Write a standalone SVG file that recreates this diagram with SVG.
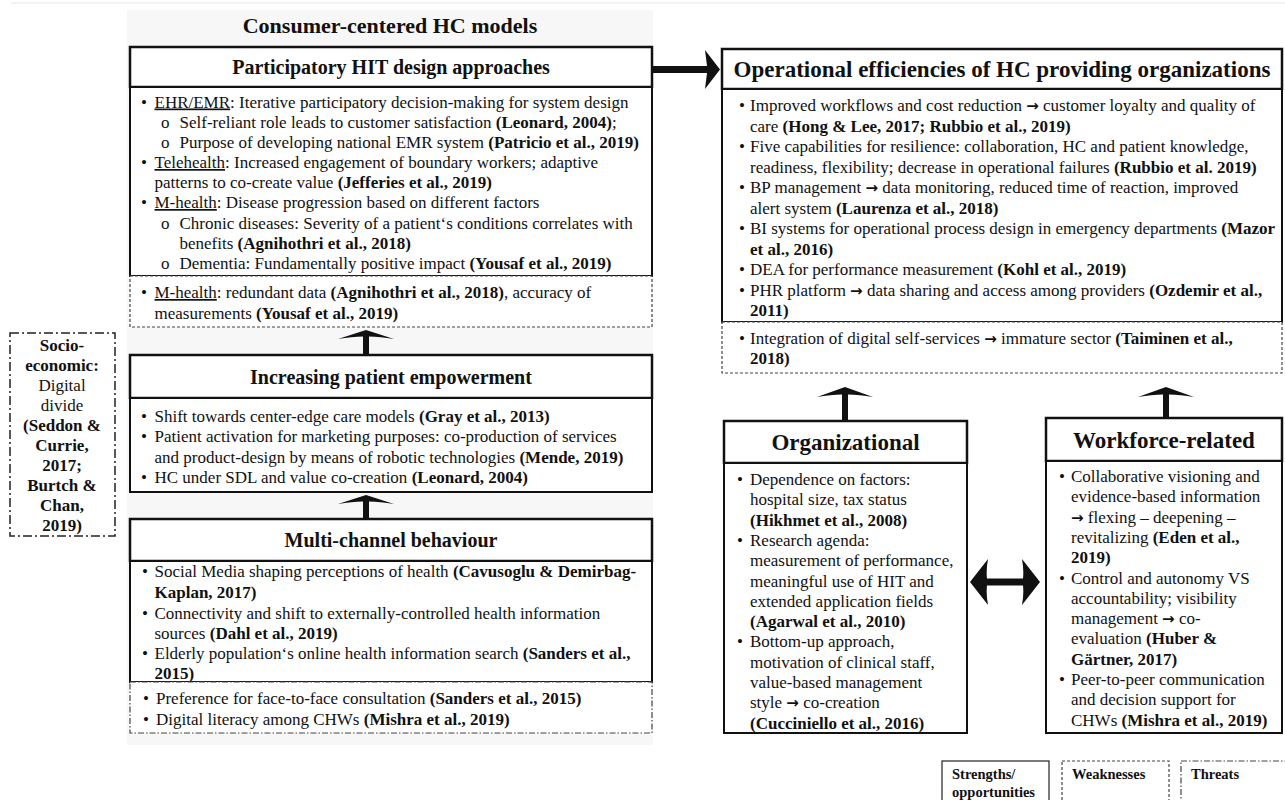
<svg xmlns="http://www.w3.org/2000/svg" width="1285" height="800" viewBox="0 0 1285 800">
<style>
text{font-family:"Liberation Serif","Times New Roman",serif;fill:#111}
.t{font-size:17px}
.b{font-weight:bold}
.a{font-weight:bold;font-family:"DejaVu Sans","Liberation Sans",sans-serif;font-size:15px}
.u{text-decoration:underline}
.h{font-size:20px;font-weight:bold;text-anchor:middle}
.hr{font-size:23px;font-weight:bold;text-anchor:middle}
.c{text-anchor:middle}
.hdr{fill:#fff;stroke:#111;stroke-width:2.5}
.bdy{fill:#fff;stroke:#111;stroke-width:2}
.dsh{fill:#fff;stroke:#444;stroke-width:1.2;stroke-dasharray:3 2}
.dd{fill:#fff;stroke:#444;stroke-width:1.2;stroke-dasharray:6 2 1.5 2}
.arr{fill:#111;stroke:none}
.lg{font-size:14.5px;font-weight:bold}
</style>
<rect x="0" y="0" width="1285" height="800" fill="#fff"/>
<line x1="11" y1="3" x2="1285" y2="3" stroke="#e6e6e6" stroke-width="1"/>
<rect x="127" y="10" width="526" height="735" fill="#f7f7f7"/>
<text class="t b c" x="390" y="33" style="font-size:22px">Consumer-centered HC models</text>

<g id="participatory">
<rect class="hdr" x="130" y="47" width="522" height="40"/>
<text class="h" x="391" y="74">Participatory HIT design approaches</text>
<rect class="bdy" x="130" y="87" width="522" height="189"/>
<text class="t" x="141" y="107.5">•</text><text class="t" x="154.5" y="107.5"><tspan class="u">EHR/EMR</tspan>: Iterative participatory decision-making for system design</text>
<text class="t" x="161" y="127.5">o</text><text class="t" x="179.5" y="127.5">Self-reliant role leads to customer satisfaction <tspan class="b">(Leonard, 2004)</tspan>;</text>
<text class="t" x="161" y="147.5">o</text><text class="t" x="179.5" y="147.5">Purpose of developing national EMR system <tspan class="b">(Patricio et al., 2019)</tspan></text>
<text class="t" x="141" y="168">•</text><text class="t" x="154.5" y="168"><tspan class="u">Telehealth</tspan>: Increased engagement of boundary workers; adaptive</text>
<text class="t" x="154.5" y="188">patterns to co-create value <tspan class="b">(Jefferies et al., 2019)</tspan></text>
<text class="t" x="141" y="208">•</text><text class="t" x="154.5" y="208"><tspan class="u">M-health</tspan>: Disease progression based on different factors</text>
<text class="t" x="161" y="228.5">o</text><text class="t" x="179.5" y="228.5">Chronic diseases: Severity of a patient‘s conditions correlates with</text>
<text class="t" x="179.5" y="249">benefits <tspan class="b">(Agnihothri et al., 2018)</tspan></text>
<text class="t" x="161" y="269">o</text><text class="t" x="179.5" y="269">Dementia: Fundamentally positive impact <tspan class="b">(Yousaf et al., 2019)</tspan></text>
<rect class="dsh" x="130" y="276" width="522" height="51"/>
<text class="t" x="141" y="298">•</text><text class="t" x="154.5" y="298"><tspan class="u">M-health</tspan>: redundant data <tspan class="b">(Agnihothri et al., 2018)</tspan>, accuracy of</text>
<text class="t" x="154.5" y="319">measurements <tspan class="b">(Yousaf et al., 2019)</tspan></text>
</g>

<g id="empowerment">
<rect class="hdr" x="130" y="355" width="522" height="43"/>
<text class="h" x="391" y="383.5">Increasing patient empowerment</text>
<rect class="bdy" x="130" y="398" width="522" height="94"/>
<text class="t" x="141" y="422">•</text><text class="t" x="154.5" y="422">Shift towards center-edge care models <tspan class="b">(Gray et al., 2013)</tspan></text>
<text class="t" x="141" y="442">•</text><text class="t" x="154.5" y="442">Patient activation for marketing purposes: co-production of services</text>
<text class="t" x="154.5" y="463">and product-design by means of robotic technologies <tspan class="b">(Mende, 2019)</tspan></text>
<text class="t" x="141" y="483">•</text><text class="t" x="154.5" y="483">HC under SDL and value co-creation <tspan class="b">(Leonard, 2004)</tspan></text>
</g>

<g id="multichannel">
<rect class="hdr" x="130" y="519" width="522" height="42"/>
<text class="h" x="391" y="547">Multi-channel behaviour</text>
<rect class="bdy" x="130" y="561" width="522" height="121"/>
<text class="t" x="142" y="577">•</text><text class="t" x="154.5" y="577">Social Media shaping perceptions of health <tspan class="b">(Cavusoglu &amp; Demirbag-</tspan></text>
<text class="t b" x="154.5" y="598">Kaplan, 2017)</text>
<text class="t" x="142" y="619">•</text><text class="t" x="154.5" y="619">Connectivity and shift to externally-controlled health information</text>
<text class="t" x="154.5" y="639">sources <tspan class="b">(Dahl et al., 2019)</tspan></text>
<text class="t" x="142" y="659">•</text><text class="t" x="154.5" y="659">Elderly population‘s online health information search <tspan class="b">(Sanders et al.,</tspan></text>
<text class="t b" x="154.5" y="679">2015)</text>
<rect class="dd" x="130" y="682" width="522" height="51"/>
<text class="t" x="143" y="704">•</text><text class="t" x="156" y="704">Preference for face-to-face consultation <tspan class="b">(Sanders et al., 2015)</tspan></text>
<text class="t" x="143" y="725">•</text><text class="t" x="156" y="725">Digital literacy among CHWs <tspan class="b">(Mishra et al., 2019)</tspan></text>
</g>

<g id="socioeconomic">
<rect x="10" y="333" width="105" height="203" fill="#fff" stroke="#222" stroke-width="1.5" stroke-dasharray="9 3 2 3"/>
<text class="t b c" x="62" y="351">Socio-</text>
<text class="t b c" x="62" y="371">economic:</text>
<text class="t c" x="62" y="391">Digital</text>
<text class="t c" x="62" y="411">divide</text>
<text class="t b c" x="62" y="431">(Seddon &amp;</text>
<text class="t b c" x="62" y="451">Currie,</text>
<text class="t b c" x="62" y="471">2017;</text>
<text class="t b c" x="62" y="491">Burtch &amp;</text>
<text class="t b c" x="62" y="511">Chan,</text>
<text class="t b c" x="62" y="531">2019)</text>
</g>

<g id="operational">
<rect class="hdr" x="722" y="49" width="560" height="40"/>
<text class="hr" x="1002" y="77">Operational efficiencies of HC providing organizations</text>
<rect class="bdy" x="722" y="89" width="560" height="233"/>
<text class="t" x="739" y="111">•</text><text class="t" x="750" y="111">Improved workflows and cost reduction <tspan class="a">→</tspan> customer loyalty and quality of</text>
<text class="t" x="750" y="131.5">care <tspan class="b">(Hong &amp; Lee, 2017; Rubbio et al., 2019)</tspan></text>
<text class="t" x="739" y="152">•</text><text class="t" x="750" y="152">Five capabilities for resilience: collaboration, HC and patient knowledge,</text>
<text class="t" x="750" y="172.5">readiness, flexibility; decrease in operational failures <tspan class="b">(Rubbio et al. 2019)</tspan></text>
<text class="t" x="739" y="193">•</text><text class="t" x="750" y="193">BP management <tspan class="a">→</tspan> data monitoring, reduced time of reaction, improved</text>
<text class="t" x="750" y="213.5">alert system <tspan class="b">(Laurenza et al., 2018)</tspan></text>
<text class="t" x="739" y="234">•</text><text class="t" x="750" y="234">BI systems for operational process design in emergency departments <tspan class="b">(Mazor</tspan></text>
<text class="t b" x="750" y="254.5">et al., 2016)</text>
<text class="t" x="739" y="275">•</text><text class="t" x="750" y="275">DEA for performance measurement <tspan class="b">(Kohl et al., 2019)</tspan></text>
<text class="t" x="739" y="295.5">•</text><text class="t" x="750" y="295.5">PHR platform <tspan class="a">→</tspan> data sharing and access among providers <tspan class="b">(Ozdemir et al.,</tspan></text>
<text class="t b" x="750" y="316">2011)</text>
<rect class="dsh" x="722" y="322" width="560" height="51"/>
<text class="t" x="739" y="344">•</text><text class="t" x="750" y="344">Integration of digital self-services <tspan class="a">→</tspan> immature sector <tspan class="b">(Taiminen et al.,</tspan></text>
<text class="t b" x="750" y="364">2018)</text>
</g>

<g id="organizational">
<rect class="hdr" x="724" y="421" width="243" height="42"/>
<text class="hr" x="845.5" y="450">Organizational</text>
<rect class="bdy" x="724" y="463" width="243" height="270"/>
<text class="t" x="737" y="485">•</text><text class="t" x="750" y="485">Dependence on factors:</text>
<text class="t" x="750" y="505.3">hospital size, tax status</text>
<text class="t b" x="750" y="525.6">(Hikhmet et al., 2008)</text>
<text class="t" x="737" y="545.9">•</text><text class="t" x="750" y="545.9">Research agenda:</text>
<text class="t" x="750" y="566.2">measurement of performance,</text>
<text class="t" x="750" y="586.5">meaningful use of HIT and</text>
<text class="t" x="750" y="606.8">extended application fields</text>
<text class="t b" x="750" y="627.1">(Agarwal et al., 2010)</text>
<text class="t" x="737" y="647.4">•</text><text class="t" x="750" y="647.4">Bottom-up approach,</text>
<text class="t" x="750" y="667.7">motivation of clinical staff,</text>
<text class="t" x="750" y="688">value-based management</text>
<text class="t" x="750" y="708.3">style <tspan class="a">→</tspan> co-creation</text>
<text class="t b" x="750" y="728.6">(Cucciniello et al., 2016)</text>
</g>

<g id="workforce">
<rect class="hdr" x="1046" y="418" width="236" height="43"/>
<text class="hr" x="1164" y="447.5">Workforce-related</text>
<rect class="bdy" x="1046" y="461" width="236" height="272"/>
<text class="t" x="1059" y="482">•</text><text class="t" x="1071" y="482">Collaborative visioning and</text>
<text class="t" x="1071" y="502.3">evidence-based information</text>
<text class="t" x="1071" y="522.6"><tspan class="a">→</tspan> flexing – deepening –</text>
<text class="t" x="1071" y="542.9">revitalizing <tspan class="b">(Eden et al.,</tspan></text>
<text class="t b" x="1071" y="563.2">2019)</text>
<text class="t" x="1059" y="583.5">•</text><text class="t" x="1071" y="583.5">Control and autonomy VS</text>
<text class="t" x="1071" y="603.8">accountability; visibility</text>
<text class="t" x="1071" y="624.1">management <tspan class="a">→</tspan> co-</text>
<text class="t" x="1071" y="644.4">evaluation <tspan class="b">(Huber &amp;</tspan></text>
<text class="t b" x="1071" y="664.7">Gärtner, 2017)</text>
<text class="t" x="1059" y="685">•</text><text class="t" x="1071" y="685">Peer-to-peer communication</text>
<text class="t" x="1071" y="705.3">and decision support for</text>
<text class="t" x="1071" y="725.6">CHWs <tspan class="b">(Mishra et al., 2019)</tspan></text>
</g>

<g id="connectors">
<path class="arr" d="M338,339 L366,330 L394,339 Q380,336.5 369,336.5 L369,355 L363,355 L363,336.5 Q352,336.5 338,339 Z"/>
<path class="arr" d="M338,504 L366,495 L394,504 Q380,501.5 369,501.5 L369,519 L363,519 L363,501.5 Q352,501.5 338,504 Z"/>
<path class="arr" d="M817,397 L845,387 L873,397 Q859,394.5 848,394.5 L848,421 L842,421 L842,394.5 Q831,394.5 817,397 Z"/>
<path class="arr" d="M1138,397 L1166,387 L1194,397 Q1180,394.5 1169,394.5 L1169,418 L1163,418 L1163,394.5 Q1152,394.5 1138,397 Z"/>
<path class="arr" d="M652,66 L707,66 L705,50 L720,69.5 L705,89 L707,73 L652,73 Z"/>
<path class="arr" d="M970,582 L988,559 Q986,570 987,578.5 L1023,578.5 Q1024,570 1022,559 L1040,582 L1022,605 Q1024,594 1023,585.5 L987,585.5 Q986,594 988,605 Z"/>
</g>

<g id="legend">
<rect x="942" y="761" width="107" height="45" fill="#fff" stroke="#222" stroke-width="1.2"/>
<text class="lg" x="952" y="779">Strengths/</text>
<text class="lg" x="952" y="797">opportunities</text>
<rect class="dsh" x="1062" y="761" width="107" height="45"/>
<text class="lg" x="1072" y="779">Weaknesses</text>
<rect class="dd" x="1181" y="761" width="110" height="45"/>
<text class="lg" x="1191" y="779">Threats</text>
</g>
</svg>
